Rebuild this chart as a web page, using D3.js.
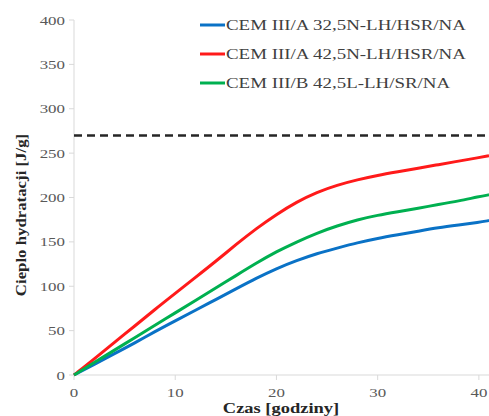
<!DOCTYPE html>
<html>
<head>
<meta charset="utf-8">
<script src="https://cdn.jsdelivr.net/npm/d3@7"></script>
<style>
  body { margin: 0; background: #fff; }
  svg { display: block; }
  text { font-family: "Liberation Serif", "Times New Roman", serif; }
</style>
</head>
<body>
<div class="chart"></div>
<script>
const hours = [0, 2, 4, 6, 8, 10, 12, 14, 16, 18, 20, 22, 24, 26, 28, 30, 32, 34, 36, 38, 40, 41]
const cemA325 = [0, 12, 24, 36, 49, 61, 73, 85, 97, 109, 120, 129, 137, 143, 149, 154, 158, 162, 166, 169, 172, 174]
const cemA425 = [0, 18, 37, 55, 74, 92, 110, 128, 147, 165, 181, 195, 206, 214, 220, 225, 229, 233, 237, 241, 245, 247]
const cemB425 = [0, 14, 28, 42, 56, 70, 84, 98, 112, 126, 139, 150, 160, 168, 175, 180, 184, 188, 192, 196, 201, 203]

const seriesNames = ['CEM III/A 32,5N-LH/HSR/NA', 'CEM III/A 42,5N-LH/HSR/NA', 'CEM III/B 42,5L-LH/SR/NA']
const seriesColors = ['#0a72c6', '#ff1a1a', '#00b050']
const limitValue = 270
const xTicks = [0, 10, 20, 30, 40]
const yTicks = [0, 50, 100, 150, 200, 250, 300, 350, 400]

const width = 489
const height = 416

const svg = d3.select('.chart')
.append('svg')
.attr('width', width)
.attr('height', height)

let x = d3.scaleLinear().domain([0, 41]).range([74, 489])
let y = d3.scaleLinear().domain([0, 400]).range([375, 20])

// stretched text, the source picture is wider than tall
const label = (g, tx, ty, str, opts) => {
	let t = g.append('text')
	.attr('transform', `translate(${tx},${ty}) rotate(${opts.rot || 0}) scale(${opts.sx || 1.3},1)`)
	.attr('text-anchor', opts.anchor || 'middle')
	.attr('font-size', opts.size || 13)
	.attr('font-weight', opts.bold ? 'bold' : 'normal')
	.attr('fill', opts.fill || '#595959')
	.text(str)
	return t
}

const axes = svg.append('g')

axes.append('line')
.attr('x1', x(0)).attr('x2', x(0))
.attr('y1', y(400)).attr('y2', y(0))
.attr('stroke', '#d9d9d9')

axes.append('line')
.attr('x1', x(0)).attr('x2', width)
.attr('y1', y(0)).attr('y2', y(0))
.attr('stroke', '#d9d9d9')

yTicks.forEach(d => {
	axes.append('line')
	.attr('x1', x(0) - 5).attr('x2', x(0))
	.attr('y1', y(d)).attr('y2', y(d))
	.attr('stroke', '#d9d9d9')

	label(axes, x(0) - 9, y(d) + 4.5, d, {anchor: 'end'})
})

xTicks.forEach(d => {
	axes.append('line')
	.attr('x1', x(d)).attr('x2', x(d))
	.attr('y1', y(0)).attr('y2', y(0) + 5)
	.attr('stroke', '#d9d9d9')

	label(axes, x(d), 397, d, {})
})

label(axes, 281, 413, 'Czas [godziny]', {bold: true, size: 14, fill: '#262626', sx: 1.32})
label(axes, 26, 215, 'Cieplo hydratacji [J/g]', {bold: true, size: 14, fill: '#262626', sx: 1.2, rot: -90})

// dashed limit line
svg.append('line')
.attr('x1', x(0)).attr('x2', width)
.attr('y1', y(limitValue)).attr('y2', y(limitValue))
.attr('stroke', '#262626')
.attr('stroke-width', 2.5)
.attr('stroke-dasharray', '8,5')

const line = d3.line()
.x(d => x(d[0]))
.y(d => y(d[1]))
.curve(d3.curveBasis)

const allSeries = [cemA325, cemA425, cemB425]

svg.append('g')
.selectAll('path')
.data(allSeries)
.enter()
.append('path')
.attr('d', d => line(d.map((v, i) => [hours[i], v])))
.attr('fill', 'none')
.attr('stroke', (d, i) => seriesColors[i])
.attr('stroke-width', 3)
.attr('stroke-linejoin', 'round')

const legend = svg.append('g')

seriesNames.forEach((d, i) => {
	let ly = 25 + i * 29

	legend.append('line')
	.attr('x1', 200).attr('x2', 225)
	.attr('y1', ly).attr('y2', ly)
	.attr('stroke', seriesColors[i])
	.attr('stroke-width', 3)

	label(legend, 226, ly + 4.5, d, {anchor: 'start', size: 14, fill: '#404040', sx: 1.35})
})
</script>
</body>
</html>
